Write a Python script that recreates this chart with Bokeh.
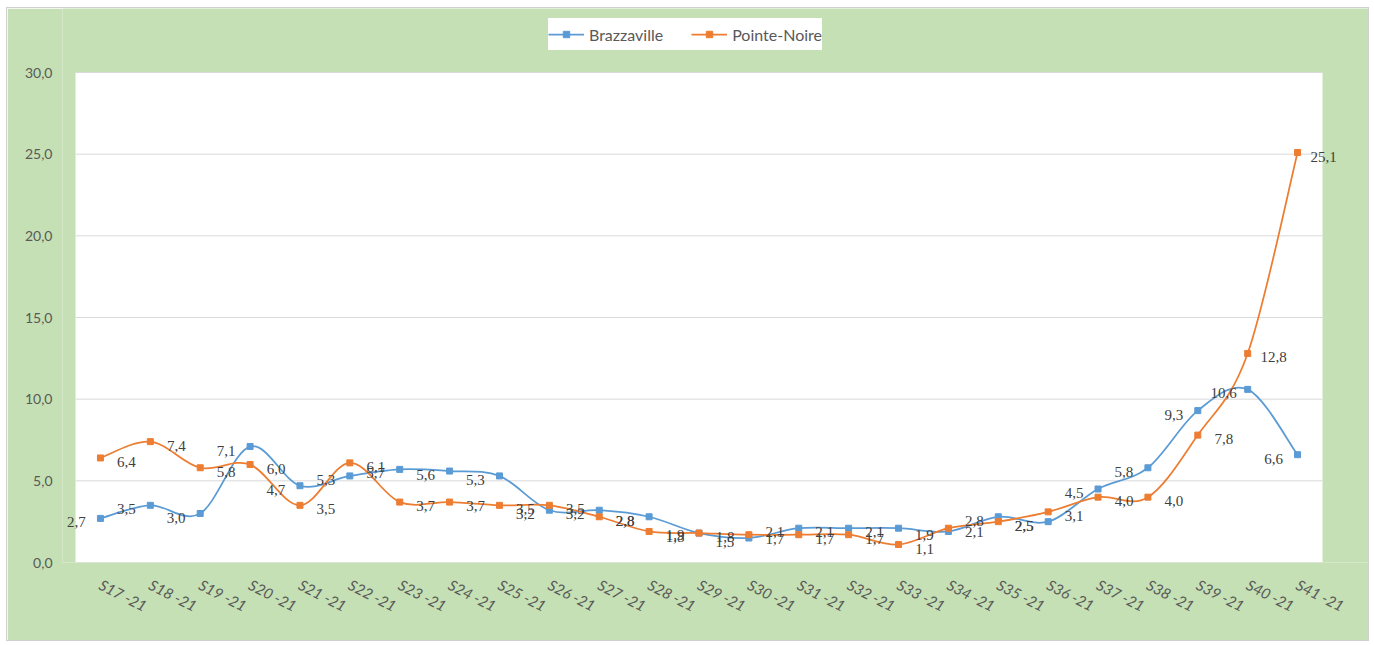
from bokeh.plotting import figure
from bokeh.models import Legend, LegendItem, FixedTicker, ColumnDataSource, LabelSet
from bokeh.embed import file_html
from bokeh.resources import INLINE

weeks = ["S17 -21", "S18 -21", "S19 -21", "S20 -21", "S21 -21", "S22 -21", "S23 -21",
         "S24 -21", "S25 -21", "S26 -21", "S27 -21", "S28 -21", "S29 -21", "S30 -21",
         "S31 -21", "S32 -21", "S33 -21", "S34 -21", "S35 -21", "S36 -21", "S37 -21",
         "S38 -21", "S39 -21", "S40 -21", "S41 -21"]
brazzaville = [2.7, 3.5, 3.0, 7.1, 4.7, 5.3, 5.7, 5.6, 5.3, 3.2, 3.2, 2.8, 1.8, 1.5,
               2.1, 2.1, 2.1, 1.9, 2.8, 2.5, 4.5, 5.8, 9.3, 10.6, 6.6]
pointe_noire = [6.4, 7.4, 5.8, 6.0, 3.5, 6.1, 3.7, 3.7, 3.5, 3.5, 2.8, 1.9, 1.8, 1.7,
                1.7, 1.7, 1.1, 2.1, 2.5, 3.1, 4.0, 4.0, 7.8, 12.8, 25.1]
y_ticks = [0, 5, 10, 15, 20, 25, 30]
y_tick_labels = ["0,0", "5,0", "10,0", "15,0", "20,0", "25,0", "30,0"]

BLUE = "#5B9BD5"
ORANGE = "#ED7D31"
GREEN = "#C5E0B4"
FONT = "Lato"

n = len(weeks)
xs = list(range(n))
y_lo, y_hi = y_ticks[0], y_ticks[-1]

# layout geometry (pixels)
PLOT_W, PLOT_H = 1247, 490
PAD_L, PAD_R, PAD_T = 13, 46, 64
px_x = PLOT_W / n
px_y = PLOT_H / (y_hi - y_lo)

p = figure(width=1361, height=632, output_backend="svg", toolbar_location=None,
           x_range=(-0.5 - PAD_L / px_x, n - 0.5 + PAD_R / px_x),
           y_range=(y_lo, y_hi + PAD_T / px_y),
           min_border_left=55, min_border_right=0, min_border_top=0, min_border_bottom=78)
p.margin = (8, 0, 0, 7)
p.styles = {"outline": "1px solid #D0D0D0"}
p.background_fill_color = GREEN
p.border_fill_color = GREEN
p.outline_line_color = None
p.xgrid.grid_line_color = None
p.ygrid.grid_line_color = None

# white plot area and horizontal gridlines
p.quad(left=-0.5, right=n - 0.5, bottom=y_lo, top=y_hi, fill_color="white", line_color=None)
p.segment(x0=[-0.5] * len(y_ticks), x1=[n - 0.5] * len(y_ticks), y0=y_ticks, y1=y_ticks,
          line_color="#D9D9D9", line_width=1)

p.xaxis.ticker = FixedTicker(ticks=xs)
p.xaxis.major_label_overrides = {i: w for i, w in enumerate(weeks)}
p.xaxis.major_label_orientation = -0.47
p.xaxis.major_label_text_font = FONT
p.xaxis.major_label_text_font_size = "15px"
p.xaxis.major_label_text_font_style = "italic"
p.xaxis.major_label_text_color = "#595959"
p.xaxis.major_label_standoff = 15
p.xaxis.axis_line_color = None
p.xaxis.major_tick_line_color = None
p.xaxis.minor_tick_line_color = None

p.yaxis.ticker = FixedTicker(ticks=y_ticks)
p.yaxis.major_label_overrides = {t: l for t, l in zip(y_ticks, y_tick_labels)}
p.yaxis.major_label_text_font = FONT
p.yaxis.major_label_text_font_size = "14px"
p.yaxis.major_label_text_color = "#595959"
p.yaxis.major_label_standoff = 4
p.yaxis.axis_line_color = None
p.yaxis.major_tick_line_color = None
p.yaxis.minor_tick_line_color = None


def smooth_source(ys):
    m = len(ys)
    d = dict(x0=[], y0=[], x1=[], y1=[], cx0=[], cy0=[], cx1=[], cy1=[])
    for i in range(m - 1):
        a = i - 1 if i > 0 else i
        b = i + 2 if i + 2 < m else i + 1
        d["x0"].append(i); d["y0"].append(ys[i])
        d["x1"].append(i + 1); d["y1"].append(ys[i + 1])
        d["cx0"].append(i + (i + 1 - a) / 6); d["cy0"].append(ys[i] + (ys[i + 1] - ys[a]) / 6)
        d["cx1"].append(i + 1 - (b - i) / 6); d["cy1"].append(ys[i + 1] - (ys[b] - ys[i]) / 6)
    return ColumnDataSource(d)


items = []
for name, ys, color in [("Brazzaville", brazzaville, BLUE),
                        ("Pointe-Noire", pointe_noire, ORANGE)]:
    curve = p.bezier(x0="x0", y0="y0", x1="x1", y1="y1", cx0="cx0", cy0="cy0",
                     cx1="cx1", cy1="cy1", source=smooth_source(ys),
                     line_color=color, line_width=1.75)
    pts = p.scatter(xs, ys, marker="square", size=6, color=color)
    items.append(LegendItem(label=name, renderers=[curve, pts]))

for ys, dx in [(brazzaville, -24), (pointe_noire, 26)]:
    src = ColumnDataSource(dict(x=xs, y=ys, t=[f"{v:.1f}".replace(".", ",") for v in ys]))
    p.add_layout(LabelSet(x="x", y="y", text="t", source=src, x_offset=dx, y_offset=-4,
                          text_align="center", text_baseline="middle", text_font=FONT,
                          text_font_size="15px", text_color="#404040"))

legend = Legend(items=items, orientation="horizontal", location=(486, 512),
                background_fill_color="white", background_fill_alpha=1.0,
                border_line_color=None, padding=14, spacing=28, margin=0,
                glyph_width=36, glyph_height=16, label_height=32, label_standoff=5,
                label_text_font=FONT, label_text_font_size="16px",
                label_text_color="#595959")
p.add_layout(legend, "center")

open("out.html", "w").write(file_html(p, INLINE))
